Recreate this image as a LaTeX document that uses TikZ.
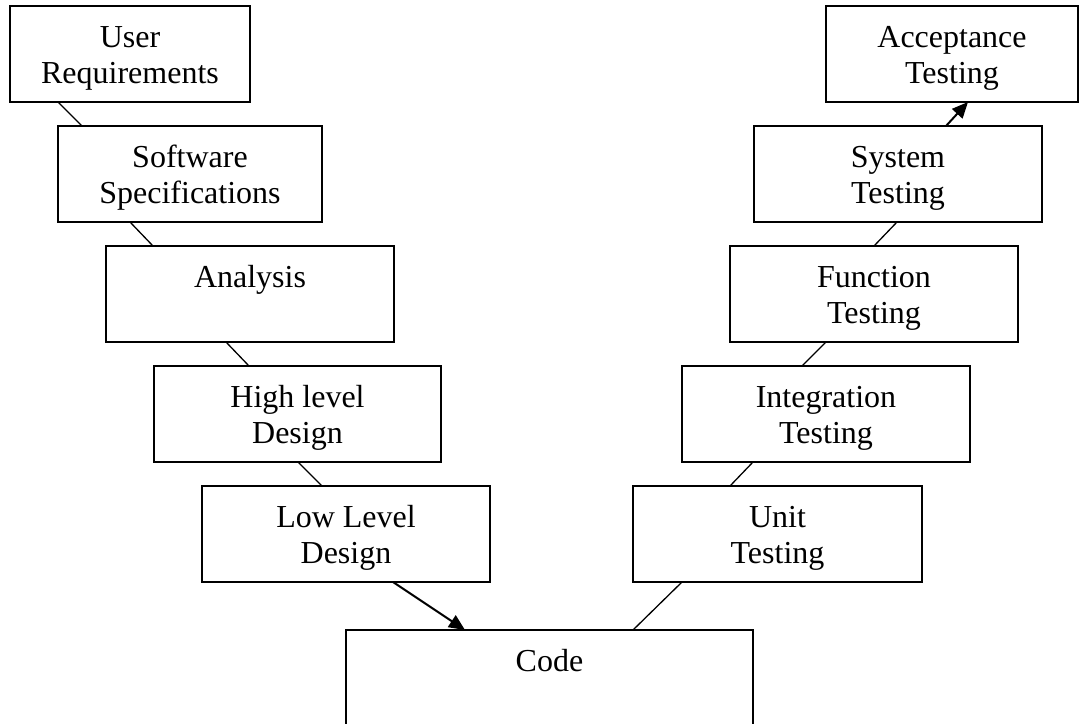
\documentclass[tikz,border=0pt]{standalone}
\usepackage{fontspec}
\setmainfont{Liberation Serif}
\usetikzlibrary{arrows.meta}
\begin{document}
\begin{tikzpicture}[x=1pt, y=-1pt,
  phase/.style={draw, line width=2pt, anchor=north west, align=center,
    inner xsep=0pt, inner ysep=0pt, outer sep=0pt,
    text height=77pt, text depth=19pt,
    font=\fontsize{32}{36}\selectfont},
  oneline/.style={text height=41pt, text depth=55pt},
  link/.style={line width=1.3pt},
  flow/.style={line width=2pt, -{Triangle[length=16pt,width=14pt]}}]

\useasboundingbox (0,0) rectangle (1079,723);

% Left branch
\node[phase, minimum width=240pt] (ur) at (10,6) {User\\Requirements};
\node[phase, minimum width=264pt] (ss) at (58,126) {Software\\Specifications};
\node[phase, oneline, minimum width=288pt] (an) at (106,246) {Analysis};
\node[phase, minimum width=287pt] (hld) at (154,366) {High level\\Design};
\node[phase, minimum width=288pt] (lld) at (202,486) {Low Level\\Design};

% Code
\node[phase, oneline, minimum width=407pt] (code) at (346,630) {Code};

% Right branch
\node[phase, minimum width=289pt] (ut) at (633,486) {Unit\\Testing};
\node[phase, minimum width=288pt] (it) at (682,366) {Integration\\Testing};
\node[phase, minimum width=288pt] (ft) at (730,246) {Function\\Testing};
\node[phase, minimum width=288pt] (st) at (754,126) {System\\Testing};
\node[phase, minimum width=252pt] (acc) at (826,6) {Acceptance\\Testing};

% Links down
\draw[link] ([xshift=48pt]ur.south west) -- ([xshift=24pt]ss.north west);
\draw[link] ([xshift=72pt]ss.south west) -- ([xshift=47pt]an.north west);
\draw[link] ([xshift=120pt]an.south west) -- ([xshift=95pt]hld.north west);
\draw[link] ([xshift=144pt]hld.south west) -- ([xshift=120pt]lld.north west);
\draw[flow] ([xshift=191pt]lld.south west) -- ([xshift=119pt]code.north west);

% Links up
\draw[link] ([xshift=287pt]code.north west) -- ([xshift=49pt]ut.south west);
\draw[link] ([xshift=97pt]ut.north west) -- ([xshift=71pt]it.south west);
\draw[link] ([xshift=120pt]it.north west) -- ([xshift=96pt]ft.south west);
\draw[link] ([xshift=144pt]ft.north west) -- ([xshift=143pt]st.south west);
\draw[flow] ([xshift=192pt]st.north west) -- ([xshift=142pt]acc.south west);

\end{tikzpicture}
\end{document}
